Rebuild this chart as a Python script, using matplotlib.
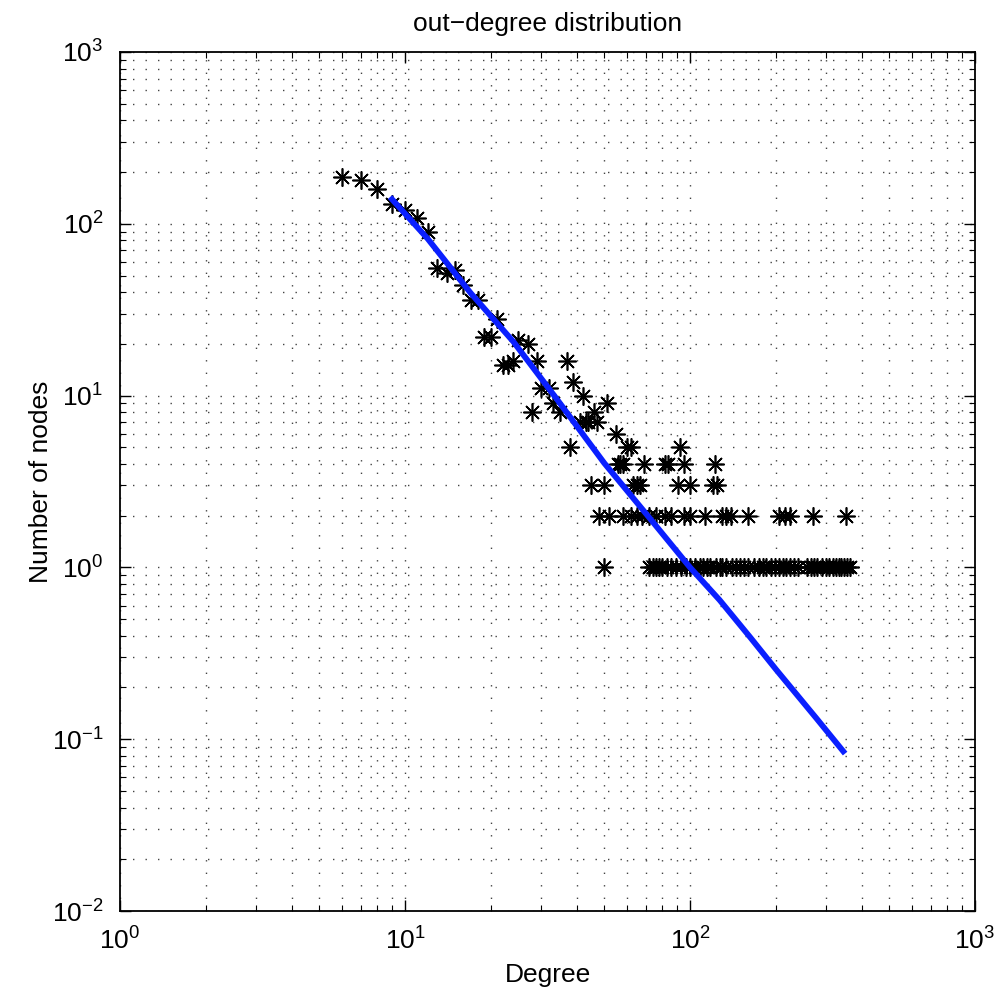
import matplotlib.pyplot as plt
from matplotlib.ticker import LogLocator, NullFormatter

plt.rcParams['font.family'] = ['Liberation Sans', 'DejaVu Sans']
plt.rcParams['mathtext.fontset'] = 'custom'
plt.rcParams['mathtext.rm'] = 'Liberation Sans'
plt.rcParams['mathtext.default'] = 'regular'

# degrees with larger counts
deg_head = [6, 7, 8, 9, 10, 11, 12, 13, 14, 15, 16, 17, 18, 19, 20, 21, 22, 23,
            24, 25, 27, 28, 29, 30, 32, 33, 35, 37, 38, 39, 41, 42, 43, 44, 46,
            47, 51, 55, 60, 62, 92]
cnt_head = [188, 181, 160, 130, 121, 108, 90, 55, 52, 54, 44, 36, 36, 22, 22,
            28, 15, 15, 16, 21, 20, 8, 16, 11, 11, 9, 8, 16, 5, 12, 7, 10, 7, 7,
            8, 7, 9, 6, 5, 5, 5]

# degrees with small counts
deg_cnt4 = [56, 57, 58, 69, 82, 84, 95, 122]
deg_cnt3 = [45, 50, 63, 65, 67, 91, 100, 120, 124]
deg_cnt2 = [48, 52, 58, 62, 65, 68, 72, 76, 82, 86, 95, 100, 113, 129, 134,
            139, 160, 205, 215, 225, 271, 352]
deg_cnt1 = [50, 72, 74, 76, 78, 80, 83, 86, 89, 93, 97, 100, 104, 108, 111,
            115, 118, 123, 127, 130, 134, 140, 145, 150, 155, 160, 168, 175,
            180, 185, 192, 198, 205, 212, 218, 225, 232, 240, 258, 265, 272,
            280, 290, 300, 308, 318, 325, 333, 340, 348, 355, 365]

# fitted power law
fit_deg = [9, 12, 17, 24, 34, 50, 70, 100, 127, 162, 201, 278, 345]
fit_cnt = [139, 82, 39.5, 20.6, 9.6, 4.05, 2.06, 1.0, 0.646, 0.395, 0.253,
           0.132, 0.085]

degrees = (deg_head + deg_cnt4 + deg_cnt3 + deg_cnt2 + deg_cnt1)
counts = (cnt_head + [4] * len(deg_cnt4) + [3] * len(deg_cnt3)
          + [2] * len(deg_cnt2) + [1] * len(deg_cnt1))

fig = plt.figure(figsize=(10.07, 9.94), dpi=100)
ax = fig.add_axes([0.1192, 0.0835, 0.849, 0.8642])

ax.loglog(degrees, counts, linestyle='none', marker=(8, 2, 0),
          markersize=13, markeredgewidth=1.2, color='black')
ax.loglog(fit_deg, fit_cnt, color='#0a1fff', linewidth=4.2)

ax.set_xlim(1, 1000)
ax.set_ylim(0.01, 1000)
ax.xaxis.set_major_locator(LogLocator(base=10, numticks=10))
ax.yaxis.set_major_locator(LogLocator(base=10, numticks=10))
ax.xaxis.set_minor_locator(LogLocator(base=10, subs=range(2, 10), numticks=10))
ax.yaxis.set_minor_locator(LogLocator(base=10, subs=range(2, 10), numticks=10))
ax.xaxis.set_minor_formatter(NullFormatter())
ax.yaxis.set_minor_formatter(NullFormatter())

ax.grid(True, which='both', color='#444444', linestyle=(0, (1, 8)),
        linewidth=1.0)
ax.tick_params(which='both', direction='in', top=True, right=True,
               labelsize=19, color='black')
ax.tick_params(which='major', length=8, width=1)
ax.tick_params(which='minor', length=4.5, width=0.8)
ax.tick_params(axis='x', which='major', pad=12)
ax.tick_params(axis='y', which='major', pad=12)
for spine in ax.spines.values():
    spine.set_linewidth(1.3)

ax.set_title('out\u2212degree distribution', fontsize=19, pad=15)
ax.set_xlabel('Degree', fontsize=19, labelpad=6)
ax.set_ylabel('Number of nodes', fontsize=19, labelpad=-1)

fig.savefig('out.png', dpi=100)
